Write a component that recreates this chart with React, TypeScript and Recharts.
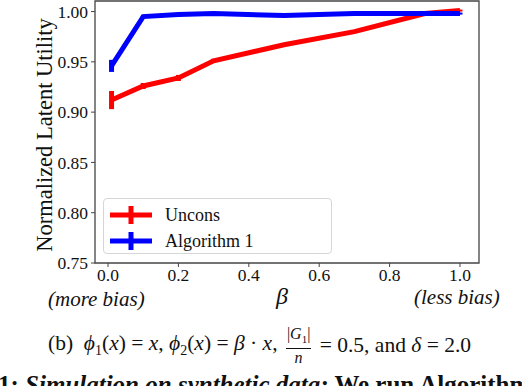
import React from 'react';
import {
  ComposedChart, Line, XAxis, YAxis, ErrorBar, ReferenceArea,
} from 'recharts';

// beta values where both methods were run
const betas = [0.01, 0.1, 0.2, 0.3, 0.5, 0.7, 0.9, 1.0];

const unconsMean = [0.912, 0.926, 0.934, 0.951, 0.967, 0.980, 0.998, 1.001];
const unconsErr  = [0.009, 0.003, 0.003, 0.002, 0.001, 0.001, 0.001, 0.001];

const algMean = [0.946, 0.995, 0.997, 0.998, 0.996, 0.998, 0.998, 0.998];
const algErr  = [0.006, 0.001, 0.001, 0.001, 0.001, 0.001, 0.001, 0.001];

const xTicks = [0, 0.2, 0.4, 0.6, 0.8, 1.0];
const yTicks = [0.75, 0.8, 0.85, 0.9, 0.95, 1.0];

const series = [
  { name: 'Uncons', color: '#ff0000', mean: unconsMean, err: unconsErr },
  { name: 'Algorithm 1', color: '#0000ff', mean: algMean, err: algErr },
];

const XMIN = -0.037, XMAX = 1.054;
const YMIN = 0.75, YMAX = 1.0105;

const serif = 'Liberation Serif, DejaVu Serif, serif';
const axisColor = '#444';
const tickStyle = { fill: '#111', fontSize: 17.5, fontFamily: serif };

function LegendBox() {
  return (
    <div style={{
      position: 'absolute', left: 103, top: 198, width: 227, height: 54,
      border: '1px solid #d6d6d6', borderRadius: 4, background: 'rgba(255,255,255,0.85)',
      fontFamily: serif, fontSize: 18, color: '#111',
    }}>
      {series.map((s, i) => (
        <div key={s.name} style={{ position: 'absolute', left: 5, top: 4 + i * 26, height: 24, display: 'flex', alignItems: 'center' }}>
          <svg width={44} height={20}>
            <line x1={1} y1={10} x2={43} y2={10} stroke={s.color} strokeWidth={5} />
            <line x1={22} y1={1} x2={22} y2={19} stroke={s.color} strokeWidth={5} />
          </svg>
          <span style={{ marginLeft: 12 }}>{s.name}</span>
        </div>
      ))}
    </div>
  );
}

export default function App() {
  return (
    <div style={{ position: 'absolute', left: 0, top: 0, width: 522, height: 386, overflow: 'hidden', background: '#fff' }}>
      <ComposedChart width={522} height={386} margin={{ top: 1, right: 43, bottom: 93, left: 33 }}>
        <ReferenceArea x1={XMIN} x2={XMAX} y1={YMIN} y2={YMAX} fill="none" stroke={axisColor} strokeWidth={1.3} ifOverflow="visible" />
        <XAxis
          type="number" dataKey="beta" domain={[XMIN, XMAX]} ticks={xTicks} allowDataOverflow
          tickFormatter={(v: number) => v.toFixed(1)} height={30}
          tick={tickStyle} tickSize={4} tickMargin={2}
          axisLine={false} tickLine={{ stroke: axisColor }}
        />
        <YAxis
          type="number" domain={[YMIN, YMAX]} ticks={yTicks} allowDataOverflow width={62}
          tickFormatter={(v: number) => v.toFixed(2)}
          tick={tickStyle} tickSize={4} tickMargin={3}
          axisLine={false} tickLine={{ stroke: axisColor }}
          label={({ viewBox }: any) => (
            <text
              x={0} y={0} textAnchor="middle" fontFamily={serif} fontSize={22.5} fill="#111"
              transform={`translate(${viewBox.x + 19}, ${viewBox.y + viewBox.height / 2 + 3}) rotate(-90)`}
            >Normalized Latent Utility</text>
          )}
        />
        {series.map((s) => (
          <Line
            key={s.name} name={s.name} type="linear" dataKey="y"
            data={betas.map((b, i) => ({ beta: b, y: s.mean[i], err: s.err[i] }))}
            stroke={s.color} strokeWidth={5} dot={false} isAnimationActive={false}
          >
            <ErrorBar dataKey="err" direction="y" width={0} stroke={s.color} strokeWidth={5} isAnimationActive={false} />
          </Line>
        ))}
      </ComposedChart>
      <LegendBox />
      <div style={{ position: 'absolute', left: 48, top: 287, fontFamily: serif, fontStyle: 'italic', fontSize: 21, color: '#111' }}>(more bias)</div>
      <div style={{ position: 'absolute', left: 276, top: 283, fontFamily: serif, fontStyle: 'italic', fontSize: 24, color: '#111' }}>β</div>
      <div style={{ position: 'absolute', left: 414, top: 285, fontFamily: serif, fontStyle: 'italic', fontSize: 21, color: '#111' }}>(less bias)</div>
      <div style={{ position: 'absolute', left: 48, top: 325, fontFamily: serif, fontSize: 21.5, color: '#111', whiteSpace: 'nowrap', display: 'flex', alignItems: 'center' }}>
        <span>(b)&nbsp;&nbsp;<i>ϕ</i><sub style={{ fontSize: 14 }}>1</sub>(<i>x</i>) = <i>x</i>, <i>ϕ</i><sub style={{ fontSize: 14 }}>2</sub>(<i>x</i>) = <i>β</i> · <i>x</i>,&nbsp;</span>
        <span style={{ display: 'inline-flex', flexDirection: 'column', alignItems: 'center', fontSize: 16, lineHeight: '17px', margin: '0 3px' }}>
          <span style={{ borderBottom: '1px solid #111', padding: '0 1px' }}>|<i>G</i><sub style={{ fontSize: 11 }}>1</sub>|</span>
          <i>n</i>
        </span>
        <span>&nbsp;= 0.5, and <i>δ</i> = 2.0</span>
      </div>
      <div style={{ position: 'absolute', left: -2, top: 372, fontFamily: serif, fontSize: 25, lineHeight: '25px', fontWeight: 'bold', color: '#111', whiteSpace: 'nowrap' }}>
        1: <i>Simulation on synthetic data:</i> We run Algorithm 1
      </div>
    </div>
  );
}
